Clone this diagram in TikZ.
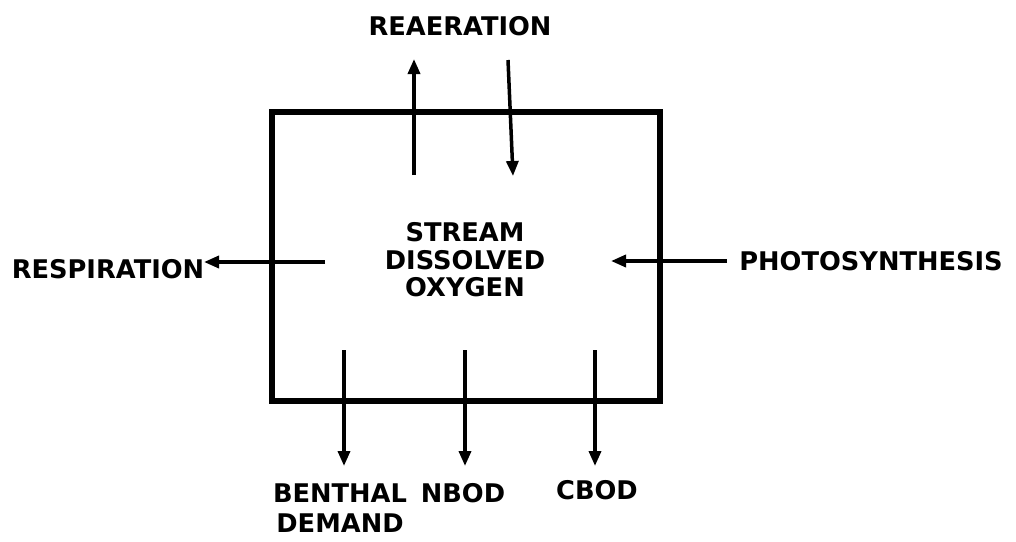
\documentclass[tikz,border=0pt]{standalone}
\usepackage{fontspec}
\setmainfont{DejaVu Sans}
\usetikzlibrary{arrows.meta}
\begin{document}
\begin{tikzpicture}[x=1pt,y=-1pt,
  lbl/.style={font=\bfseries\fontsize{25.7}{27.5}\selectfont, inner sep=0pt, align=center},
  lbltwo/.style={font=\bfseries\fontsize{25.7}{30}\selectfont, inner sep=0pt, align=center},
  flow/.style={line width=3.5pt, -{Triangle[length=15pt,width=12pt]}},
  boxst/.style={draw, line width=6pt, minimum width=388pt, minimum height=289pt, inner sep=0pt}]
\useasboundingbox (0,0) rectangle (1016,541);
\node[boxst] (box) at (466,256.5) {};
\node[lbl] (sdo) at (465,260) {STREAM\\DISSOLVED\\OXYGEN};
\node[lbl] (rea) at (460,26) {REAERATION};
\node[lbl] (resp) at (108,269) {RESPIRATION};
\node[lbl] (photo) at (871,261) {PHOTOSYNTHESIS};
\node[lbltwo] (benthal) at (340,508) {BENTHAL\\DEMAND};
\node[lbl] (nbod) at (463,493) {NBOD};
\node[lbl] (cbod) at (597,490) {CBOD};
% free ends
\coordinate (up0) at (414,175);
\coordinate (up1) at (414,59);
\coordinate (dn0) at (508,60);
\coordinate (dn1) at (513,176);
\coordinate (re0) at (325,262);
\coordinate (re1) at (204,262);
\coordinate (ph0) at (727,261);
\coordinate (ph1) at (611,261);
\coordinate (b0) at (344,350);
\coordinate (b1) at (344,466);
\coordinate (n0) at (465,350);
\coordinate (n1) at (465,466);
\coordinate (c0) at (595,350);
\coordinate (c1) at (595,466);
\draw[flow] (up0) -- (up1);
\draw[flow] (dn0) -- (dn1);
\draw[flow] (re0) -- (re1);
\draw[flow] (ph0) -- (ph1);
\draw[flow] (b0) -- (b1);
\draw[flow] (n0) -- (n1);
\draw[flow] (c0) -- (c1);
\end{tikzpicture}
\end{document}
